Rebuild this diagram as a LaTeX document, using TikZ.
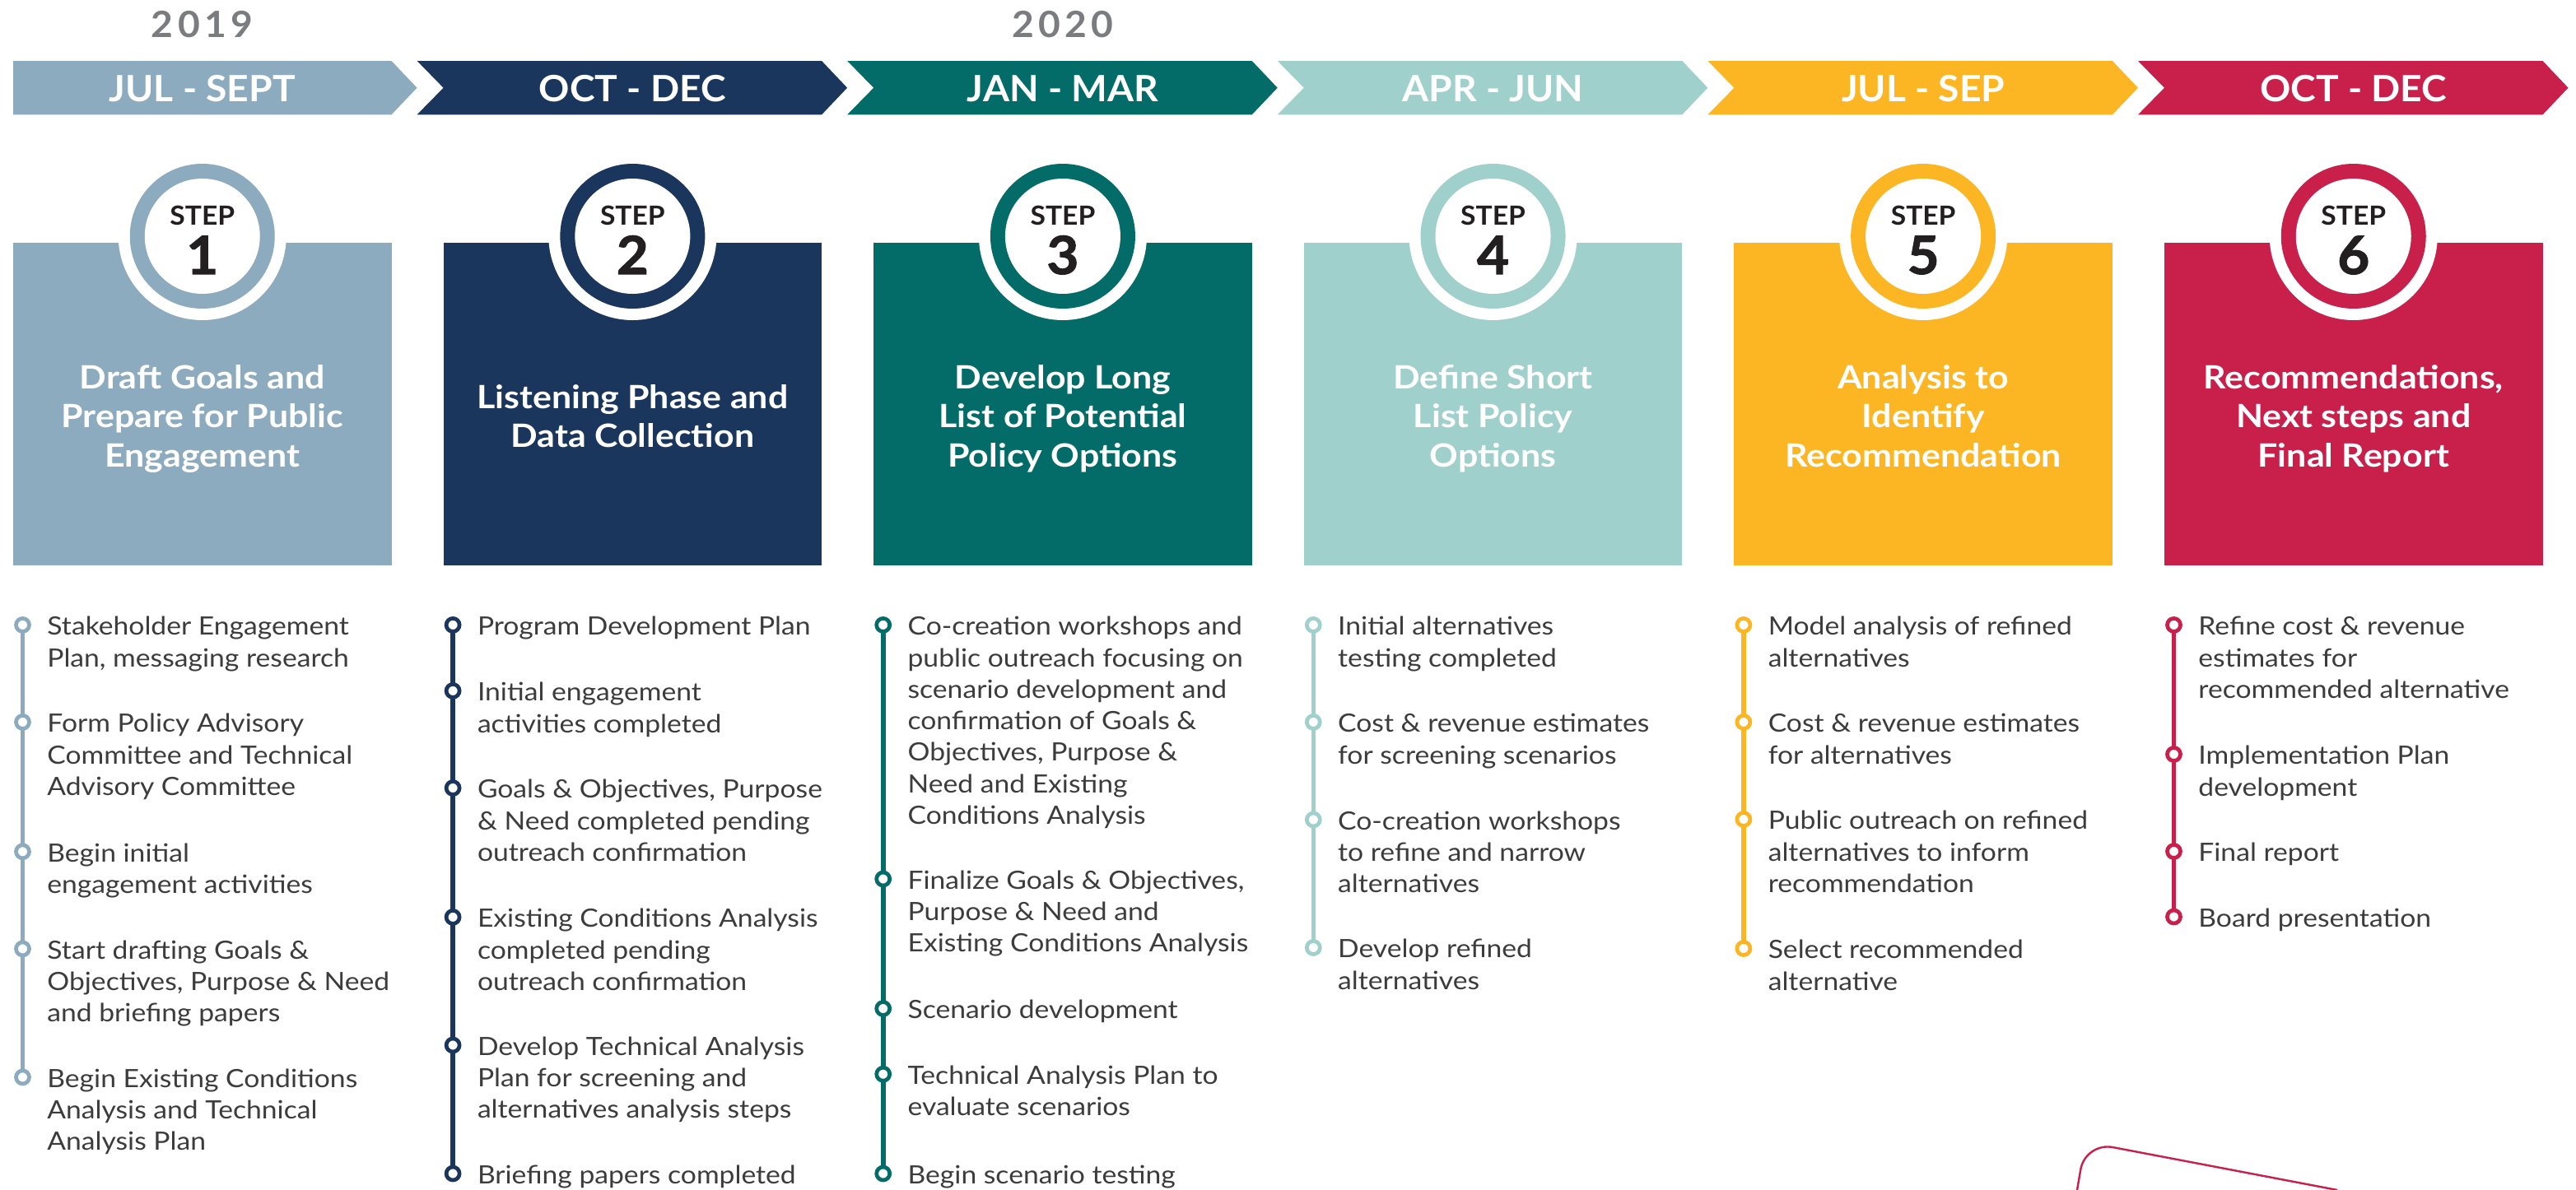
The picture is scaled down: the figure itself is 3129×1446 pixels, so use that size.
\documentclass[tikz,border=0pt]{standalone}
\usepackage{fontspec}
\setmainfont{Lato}[FakeStretch=1.1]
\newfontfamily\labfont{Lato}[FakeStretch=1.05]
\newfontfamily\numfont{Lato}[FakeStretch=1.05]
\newfontfamily\heavyfont{Lato}[FakeStretch=1.05, FakeBold=1.6]
\definecolor{cA}{HTML}{8DABBF}
\definecolor{cB}{HTML}{1B365D}
\definecolor{cC}{HTML}{036B68}
\definecolor{cD}{HTML}{A0D0CB}
\definecolor{cE}{HTML}{FDB623}
\definecolor{cF}{HTML}{C8204A}
\definecolor{txt}{HTML}{3C3C3C}
\definecolor{yr}{HTML}{7B7C7F}
\definecolor{stepc}{HTML}{231F20}
\tikzset{
  itemtext/.style={inner sep=0pt, text=txt, font=\fontsize{15.3}{19.15}\selectfont},
  montext/.style={inner sep=0pt, text=white, font=\labfont\bfseries\fontsize{22}{26}\selectfont},
  titletext/.style={inner sep=0pt, text=white, font=\bfseries\fontsize{19.5}{23.85}\selectfont},
  steptext/.style={inner sep=0pt, text=stepc, font=\numfont\bfseries\fontsize{16}{18}\selectfont},
  stepnum/.style={inner sep=0pt, text=stepc, font=\heavyfont\bfseries\fontsize{32}{34}\selectfont},
  yeartext/.style={inner sep=0pt, text=yr, font=\labfont\bfseries\fontsize{22}{26}\selectfont\addfontfeatures{LetterSpace=12}},
}
% #1 index, #2 colour, #3 month label, #4 title, #5 step digit, #6 first title baseline
\newcommand{\phasecol}[6]{%
  \pgfmathsetmacro{\cbl}{16+522.6*#1}%
  \pgfmathsetmacro{\cbr}{\cbl+459.5}%
  \pgfmathsetmacro{\cxc}{\cbl+229.75}%
  \ifnum#1=0
    \fill[#2] (\cbl,74) -- (\cbr,74) -- ({\cbr+31},106.7) -- (\cbr,139.3) -- (\cbl,139.3) -- cycle;
  \else
    \fill[#2] ({\cbl-32},74) -- (\cbr,74) -- ({\cbr+31},106.7) -- (\cbr,139.3) -- ({\cbl-32},139.3) -- (\cbl,106.7) -- cycle;
  \fi
  \node[montext, anchor=base] (mon#1) at (\cxc,123.3) {#3};
  \fill[#2] (\cbl,295) rectangle (\cbr,687);
  \fill[white] (\cxc,287) circle[radius=51pt];
  \fill[#2] (\cxc,287) circle[radius=44pt];
  \fill[white] (\cxc,287) circle[radius=35pt];
  \node[steptext, anchor=base] (steplbl#1) at (\cxc,273) {STEP};
  \node[stepnum, anchor=base] (stepnum#1) at (\cxc,333) {#5};
  \node[titletext, anchor=base] (title#1) at (\cxc,#6) {\begin{tabular}[t]{@{}c@{}}#4\end{tabular}};
}
% #1 index, #2 colour, #3 first y, #4 last y
\newcommand{\colline}[4]{%
  \pgfmathsetmacro{\ibx}{16+522.6*#1+11.5}%
  \draw[#2, line width=2.8pt] (\ibx,#3) -- (\ibx,#4);
}
% #1 name, #2 index, #3 colour, #4 y, #5 text
\newcommand{\bitem}[5]{%
  \pgfmathsetmacro{\ibx}{16+522.6*#2+11.5}%
  \pgfmathsetmacro{\itx}{16+522.6*#2+41}%
  \draw[#3, fill=white, line width=2.35pt] (\ibx,#4) circle[radius=4pt];
  \node[itemtext, anchor=base west] (#1) at (\itx,{#4+12.3}) {\begin{tabular}[t]{@{}l@{}}#5\end{tabular}};
}
\begin{document}
\begin{tikzpicture}[x=0.5pt,y=-0.5pt]
\useasboundingbox (0,0) rectangle (3129,1446);
\fill[white] (0,0) rectangle (3129,1446);

\node[yeartext, anchor=base] (y2019) at (245.5,45.5) {2019};
\node[yeartext, anchor=base] (y2020) at (1291,45.5) {2020};

\phasecol{0}{cA}{JUL - SEPT}{Draft Goals and\\Prepare for Public\\Engagement}{1}{472}
\phasecol{1}{cB}{OCT - DEC}{Listening Phase and\\Data Collection}{2}{496}
\phasecol{2}{cC}{JAN - MAR}{Develop Long\\List of Potential\\Policy Options}{3}{472}
\phasecol{3}{cD}{APR - JUN}{Define Short\\List Policy\\Options}{4}{472}
\phasecol{4}{cE}{JUL - SEP}{Analysis to\\Identify\\Recommendation}{5}{472}
\phasecol{5}{cF}{OCT - DEC}{Recommendations,\\Next steps and\\Final Report}{6}{472}

% column 1
\colline{0}{cA}{759.4}{1308.9}
\bitem{a1}{0}{cA}{759.4}{Stakeholder Engagement\\Plan, messaging research}
\bitem{a2}{0}{cA}{877.4}{Form Policy Advisory\\Committee and Technical\\Advisory Committee}
\bitem{a3}{0}{cA}{1034.8}{Begin initial\\engagement activities}
\bitem{a4}{0}{cA}{1152.9}{Start drafting Goals \&\\Objectives, Purpose \& Need\\and briefing papers}
\bitem{a5}{0}{cA}{1308.9}{Begin Existing Conditions\\Analysis and Technical\\Analysis Plan}

% column 2
\colline{1}{cB}{759.4}{1426}
\bitem{b1}{1}{cB}{759.4}{Program Development Plan}
\bitem{b2}{1}{cB}{839.4}{Initial engagement\\activities completed}
\bitem{b3}{1}{cB}{957.5}{Goals \& Objectives, Purpose\\\& Need completed pending\\outreach confirmation}
\bitem{b4}{1}{cB}{1114.4}{Existing Conditions Analysis\\completed pending\\outreach confirmation}
\bitem{b5}{1}{cB}{1270}{Develop Technical Analysis\\Plan for screening and\\alternatives analysis steps}
\bitem{b6}{1}{cB}{1426}{Briefing papers completed}

% column 3
\colline{2}{cC}{759.4}{1426}
\bitem{c1}{2}{cC}{759.4}{Co-creation workshops and\\public outreach focusing on\\scenario development and\\confirmation of Goals \&\\Objectives, Purpose \&\\Need and Existing\\Conditions Analysis}
\bitem{c2}{2}{cC}{1068}{Finalize Goals \& Objectives,\\Purpose \& Need and\\Existing Conditions Analysis}
\bitem{c3}{2}{cC}{1225.5}{Scenario development}
\bitem{c4}{2}{cC}{1305.2}{Technical Analysis Plan to\\evaluate scenarios}
\bitem{c5}{2}{cC}{1426}{Begin scenario testing}

% column 4
\colline{3}{cD}{759.4}{1151.5}
\bitem{d1}{3}{cD}{759.4}{Initial alternatives\\testing completed}
\bitem{d2}{3}{cD}{877.4}{Cost \& revenue estimates\\for screening scenarios}
\bitem{d3}{3}{cD}{996}{Co-creation workshops\\to refine and narrow\\alternatives}
\bitem{d4}{3}{cD}{1151.5}{Develop refined\\alternatives}

% column 5
\colline{4}{cE}{759.4}{1152.5}
\bitem{e1}{4}{cE}{759.4}{Model analysis of refined\\alternatives}
\bitem{e2}{4}{cE}{877.4}{Cost \& revenue estimates\\for alternatives}
\bitem{e3}{4}{cE}{995.5}{Public outreach on refined\\alternatives to inform\\recommendation}
\bitem{e4}{4}{cE}{1152.5}{Select recommended\\alternative}

% column 6
\colline{5}{cF}{759.4}{1114}
\bitem{f1}{5}{cF}{759.4}{Refine cost \& revenue\\estimates for\\recommended alternative}
\bitem{f2}{5}{cF}{916.5}{Implementation Plan\\development}
\bitem{f3}{5}{cF}{1034.5}{Final report}
\bitem{f4}{5}{cF}{1114}{Board presentation}

% partial tilted frame, bottom right
\coordinate (fa) at (2523,1446);
\coordinate (fb) at (2533,1387.7);
\coordinate (fc) at (2839,1446);
\draw[cF, line width=1.2pt, rounded corners=17pt] (fa) -- (fb) -- (fc);
\end{tikzpicture}
\end{document}
